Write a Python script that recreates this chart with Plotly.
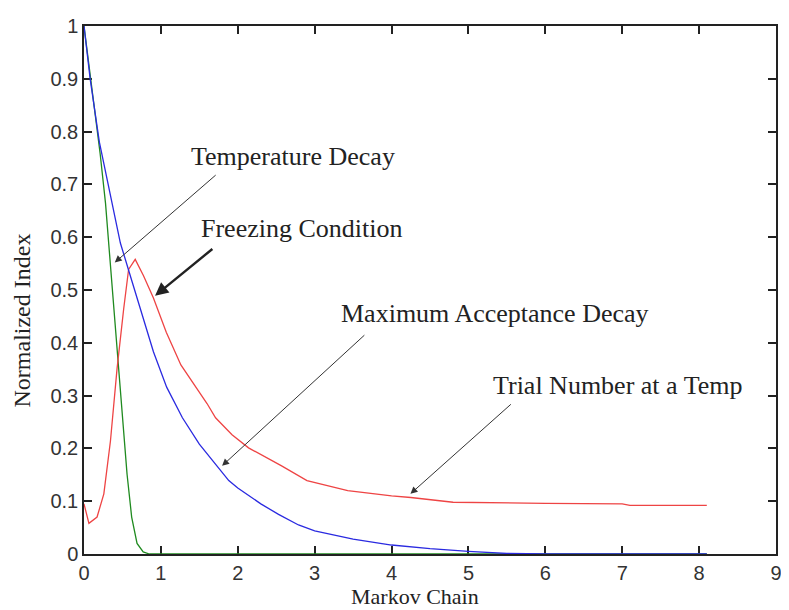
import plotly.graph_objects as go

# values
temp_x = [0, 0.09, 0.21, 0.28, 0.32, 0.43, 0.49, 0.56, 0.62, 0.69, 0.77, 0.85, 8.1]
temp_y = [1.0, 0.9, 0.758, 0.664, 0.59, 0.40, 0.276, 0.151, 0.07, 0.02, 0.004, 0.0, 0.0]

accept_x = [0, 0.08, 0.2, 0.37, 0.473, 0.602, 0.731, 0.903, 1.075, 1.28, 1.5, 1.711,
            1.883, 2.0, 2.3, 2.53, 2.79, 3.0, 3.5, 4.0, 4.5, 5.0, 5.5, 6.0, 8.1]
accept_y = [1.0, 0.9, 0.78, 0.664, 0.589, 0.527, 0.464, 0.383, 0.316, 0.258, 0.208, 0.17,
            0.139, 0.125, 0.095, 0.075, 0.055, 0.044, 0.028, 0.017, 0.01, 0.005, 0.001, 0.0, 0.0]

trial_x = [0, 0.064, 0.17, 0.258, 0.344, 0.43, 0.516, 0.58, 0.666, 0.774, 0.903, 1.07,
           1.26, 1.45, 1.6, 1.711, 1.925, 2.14, 2.57, 2.9, 3.43, 4.0, 4.25, 4.8, 5.5,
           6.0, 7.0, 7.1, 8.1]
trial_y = [0.095, 0.058, 0.07, 0.114, 0.214, 0.351, 0.464, 0.539, 0.558, 0.527, 0.485, 0.42,
           0.358, 0.317, 0.285, 0.258, 0.226, 0.201, 0.167, 0.139, 0.12, 0.11, 0.107, 0.098, 0.096,
           0.096, 0.095, 0.092, 0.092]

x_ticks = [0, 1, 2, 3, 4, 5, 6, 7, 8, 9]
y_ticks = [0, 0.1, 0.2, 0.3, 0.4, 0.5, 0.6, 0.7, 0.8, 0.9, 1]
y_ticktext = ["0", "0.1", "0.2", "0.3", "0.4", "0.5", "0.6", "0.7", "0.8", "0.9", "1"]

# label text, text anchor (x, y), arrow tail (x, y), arrow tip (x, y)
labels = ["Temperature Decay", "Freezing Condition", "Maximum Acceptance Decay", "Trial Number at a Temp"]
label_x = [1.36, 1.49, 3.32, 5.29]
label_y = [0.752, 0.617, 0.455, 0.320]
tail_x = [1.732, 1.689, 3.666, 5.571]
tail_y = [0.720, 0.580, 0.417, 0.286]
tip_x = [0.40, 0.924, 1.796, 4.246]
tip_y = [0.552, 0.489, 0.167, 0.114]

fig = go.Figure()
fig.add_trace(go.Scatter(x=temp_x, y=temp_y, mode="lines", cliponaxis=False,
                         line=dict(color="#1f8a1f", width=1.3)))
fig.add_trace(go.Scatter(x=trial_x, y=trial_y, mode="lines", cliponaxis=False,
                         line=dict(color="#ee4444", width=1.3)))
fig.add_trace(go.Scatter(x=accept_x, y=accept_y, mode="lines", cliponaxis=False,
                         line=dict(color="#2a2ae0", width=1.3)))

serif = dict(family="Liberation Serif, Times New Roman, serif", size=26, color="#222")

for i, t in enumerate(labels):
    fig.add_annotation(x=label_x[i], y=label_y[i], text=t, showarrow=False,
                       xanchor="left", yanchor="middle", font=serif)
    thick = t == "Freezing Condition"
    fig.add_annotation(x=tip_x[i], y=tip_y[i], ax=tail_x[i], ay=tail_y[i],
                       axref="x", ayref="y", text="", showarrow=True,
                       arrowhead=2, arrowsize=1.1 if thick else 1.4,
                       arrowwidth=2.4 if thick else 1, arrowcolor="#222" if thick else "#333",
                       standoff=0)

# axis titles placed as annotations to match the reference positions
fig.add_annotation(xref="paper", yref="paper", x=0.479, y=-0.081, text="Markov Chain",
                   showarrow=False, xanchor="center", yanchor="middle", borderpad=0,
                   font=dict(family="Liberation Serif, serif", size=22, color="#222"))
fig.add_annotation(xref="paper", yref="paper", x=-0.089, y=0.443, text="Normalized Index",
                   showarrow=False, textangle=-90, xanchor="center", yanchor="middle",
                   font=dict(family="Liberation Serif, serif", size=24, color="#222"))

axis_common = dict(showgrid=False, zeroline=False, showline=True, linecolor="#222",
                   linewidth=1.5, mirror="ticks", ticks="inside", ticklen=8,
                   tickcolor="#222", tickwidth=1.5, layer="below traces",
                   tickfont=dict(family="Liberation Sans, Arial, sans-serif", size=20, color="#333"))

fig.update_xaxes(range=[0, 9], tickvals=x_ticks, **axis_common)
fig.update_yaxes(range=[0, 1], tickvals=y_ticks, ticktext=y_ticktext, **axis_common)

# the page body adds an 8px offset, so the figure is sized to fit inside the window
fig.update_layout(width=781, height=602, showlegend=False,
                  plot_bgcolor="white", paper_bgcolor="white",
                  margin=dict(l=76, r=7, t=13, b=56))

fig.write_html("out.html")
